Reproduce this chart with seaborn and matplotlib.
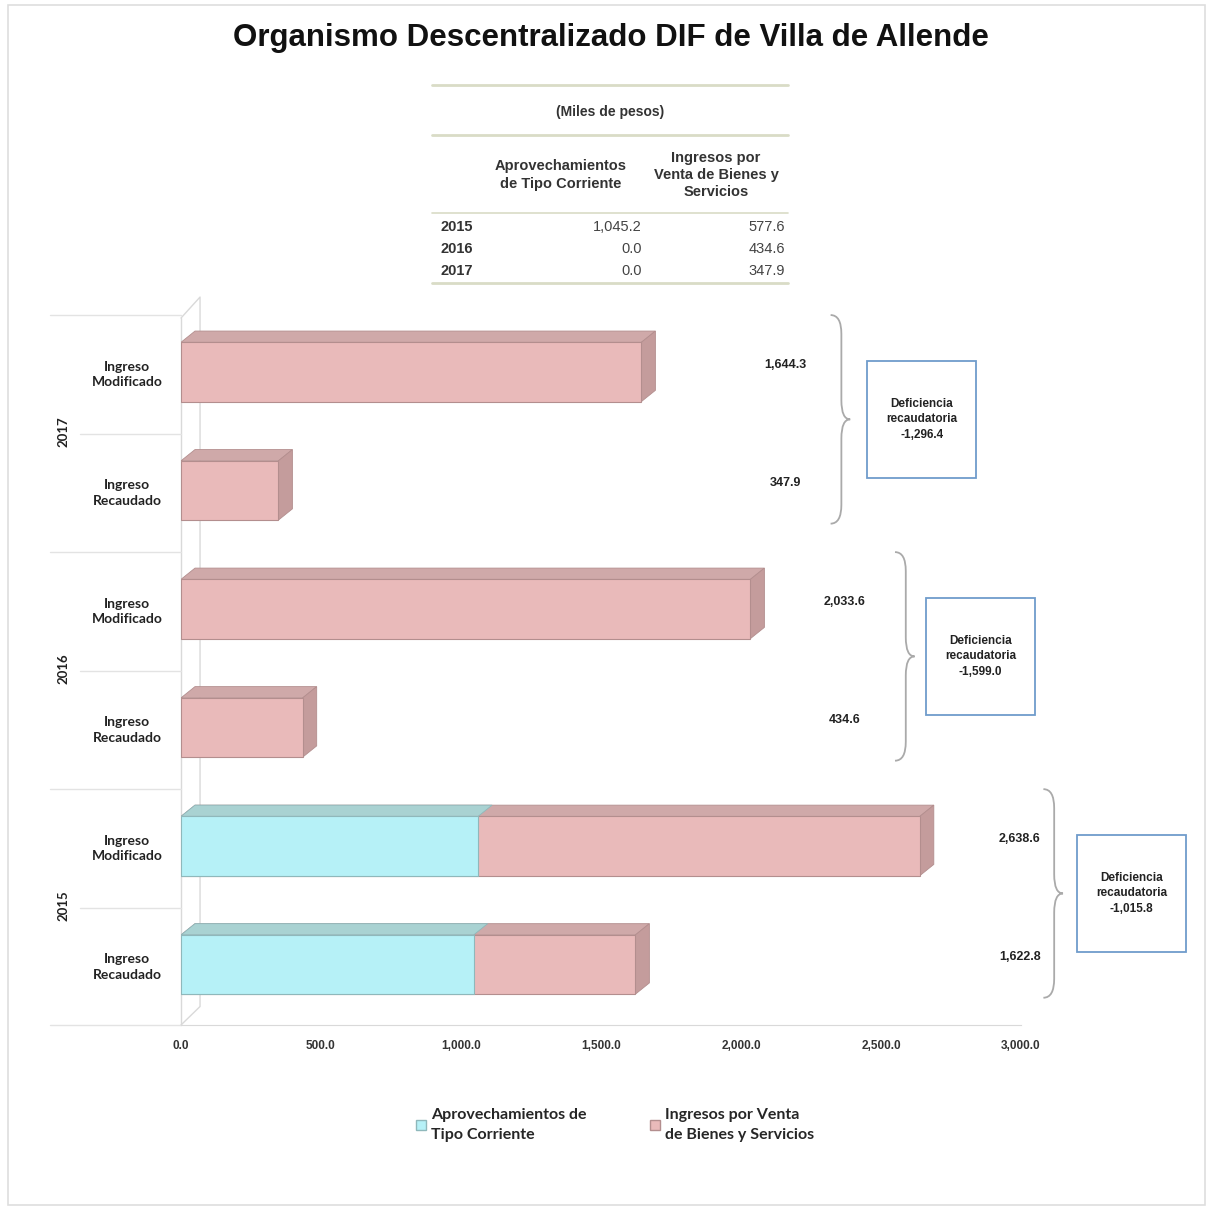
import seaborn as sns
import matplotlib.pyplot as plt
import pandas as pd
from matplotlib import font_manager, transforms
from matplotlib.patches import Polygon, Rectangle, Patch, PathPatch
from matplotlib.path import Path
from matplotlib.lines import Line2D

# data (miles de pesos)
years = ['2017', '2016', '2015']
aprov_mod = [0.0, 0.0, 1061.0]
venta_mod = [1644.3, 2033.6, 1577.6]
aprov_rec = [0.0, 0.0, 1045.2]
venta_rec = [347.9, 434.6, 577.6]
bar_kinds = ['Ingreso\nModificado', 'Ingreso\nRecaudado']
series_names = ['Aprovechamientos de\nTipo Corriente', 'Ingresos por Venta\nde Bienes y Servicios']

# table at the top
table_years = ['2015', '2016', '2017']
table_aprov = [1045.2, 0.0, 0.0]
table_venta = [577.6, 434.6, 347.9]

W, H = 1207, 1209


def fx(px):
    return px / W


def fy(py):
    return 1 - py / H


def has_font(name):
    try:
        font_manager.findfont(font_manager.FontProperties(family=name), fallback_to_default=False)
        return True
    except Exception:
        return False


narrow = 'Liberation Sans Narrow' if has_font('Liberation Sans Narrow') else 'Liberation Sans'
calib = 'Lato'

sns.set_style('white')
plt.rcParams['font.family'] = ['Liberation Sans', 'DejaVu Sans']

rows = []
for i, y in enumerate(years):
    rows.append({'bar': y + '|' + bar_kinds[0], 'aprov': aprov_mod[i], 'total': aprov_mod[i] + venta_mod[i]})
    rows.append({'bar': y + '|' + bar_kinds[1], 'aprov': aprov_rec[i], 'total': aprov_rec[i] + venta_rec[i]})
df = pd.DataFrame(rows)
order = list(df['bar'])

pink, pink_top, pink_side, pink_edge = '#e9baba', '#cfa9a9', '#c49c9c', '#b38e8e'
cyan, cyan_top, cyan_edge = '#b6f1f7', '#a9d2d2', '#8fb8bb'

fig = plt.figure(figsize=(W / 100, H / 100), dpi=100)
fig.patches.append(Rectangle((fx(8), fy(1205)), fx(1205) - fx(8), fy(5) - fy(1205),
                             transform=fig.transFigure, fill=False, edgecolor='#dedede', lw=1.2))

ax = fig.add_axes([fx(181), fy(1025), (1021 - 181) / W, (1025 - 300) / H])
sns.barplot(data=df, x='total', y='bar', order=order, orient='h', color=pink,
            saturation=1, width=0.5, ax=ax, edgecolor=pink_edge, linewidth=0.8)
n_pink = len(ax.patches)
sns.barplot(data=df, x='aprov', y='bar', order=order, orient='h', color=cyan,
            saturation=1, width=0.5, ax=ax, edgecolor=cyan_edge, linewidth=0.8)

# fake 3d depth
dx, dy = 50, 0.095
for k, p in enumerate(list(ax.patches)):
    x0, y0, w, h = p.get_x(), p.get_y(), p.get_width(), p.get_height()
    if w <= 0:
        continue
    is_pink = k < n_pink
    top = Polygon([(x0, y0), (x0 + w, y0), (x0 + w + dx, y0 - dy), (x0 + dx, y0 - dy)],
                  closed=True, facecolor=pink_top if is_pink else cyan_top,
                  edgecolor=pink_edge if is_pink else cyan_edge, lw=0.6,
                  zorder=1 if is_pink else 1.5)
    ax.add_patch(top)
    if is_pink:
        side = Polygon([(x0 + w, y0), (x0 + w + dx, y0 - dy), (x0 + w + dx, y0 + h - dy), (x0 + w, y0 + h)],
                       closed=True, facecolor=pink_side, edgecolor=pink_edge, lw=0.6, zorder=1)
        ax.add_patch(side)
    p.set_zorder(2 if is_pink else 2.5)

ax.set_xlim(0, 3000)
ax.set_ylim(5.51, -0.607)
ax.set_xticks(range(0, 3001, 500))
ax.set_xticklabels([f'{v:,.1f}' for v in range(0, 3001, 500)], fontsize=8.5,
                   fontweight='bold', color='#333333', family=narrow)
ax.tick_params(axis='x', length=0, pad=11)
ax.set_yticks([])
ax.set_xlabel('')
ax.set_ylabel('')
for s in ['top', 'right', 'left']:
    ax.spines[s].set_visible(False)
ax.spines['bottom'].set_color('#d9d9d9')

# back wall
wall = dict(color='#d9d9d9', lw=1, clip_on=False, zorder=0.5)
ax.plot([0, 68, 68, 0], [-0.455, -0.632, 5.354, 5.51], **wall)
ax.plot([0, 0], [-0.455, 5.51], **wall)

# left axis labels and separators
bt = transforms.blended_transform_factory(ax.transAxes, ax.transData)
for g in range(len(years)):
    yb = -0.48 + 2 * g
    ax.add_line(Line2D([-0.156, 0], [yb, yb], transform=bt, color='#e3e3e3', lw=1, clip_on=False))
    ax.add_line(Line2D([-0.12, 0], [yb + 1, yb + 1], transform=bt, color='#e3e3e3', lw=1, clip_on=False))
    ax.text(-0.14, 2 * g + 0.5, years[g], transform=bt, rotation=90, ha='center', va='center',
            fontsize=9.5, fontweight='bold', family=calib, color='#222222')
ax.add_line(Line2D([-0.156, 0], [5.51, 5.51], transform=bt, color='#e3e3e3', lw=1, clip_on=False))
for i, b in enumerate(order):
    ax.text(-0.064, i + 0.02, b.split('|')[1], transform=bt, ha='center', va='center',
            fontsize=10, fontweight='bold', family=calib, color='#222222', linespacing=1.35)

# total labels, braces and deficiency boxes
label_x = [2160, 2370, 2995]
brace_x = [2320, 2550, 3080]
box_x = [2450, 2660, 3200]
totals_mod = [a + v for a, v in zip(aprov_mod, venta_mod)]
totals_rec = [a + v for a, v in zip(aprov_rec, venta_rec)]


def brace(x0, yt, yb, ym, w=70, r=0.16):
    xm = x0 + w * 0.55
    verts = [(x0, yt), (xm, yt), (xm, yt + r),
             (xm, ym - r), (xm, ym), (x0 + w, ym),
             (xm, ym), (xm, ym + r),
             (xm, yb - r), (xm, yb), (x0, yb)]
    codes = [Path.MOVETO, Path.CURVE3, Path.CURVE3,
             Path.LINETO, Path.CURVE3, Path.CURVE3,
             Path.CURVE3, Path.CURVE3,
             Path.LINETO, Path.CURVE3, Path.CURVE3]
    ax.add_patch(PathPatch(Path(verts, codes), fill=False, edgecolor='#aaaaaa', lw=1.3, clip_on=False))


for g in range(len(years)):
    ym, yr = 2 * g, 2 * g + 1
    ax.text(label_x[g], ym - 0.06, f'{totals_mod[g]:,.1f}', ha='center', va='center',
            fontsize=9, fontweight='bold', family=narrow, color='#222222')
    ax.text(label_x[g], yr - 0.06, f'{totals_rec[g]:,.1f}', ha='center', va='center',
            fontsize=9, fontweight='bold', family=narrow, color='#222222')
    mid = 2 * g + 0.4
    brace(brace_x[g], 2 * g - 0.48, 2 * g + 1.28, mid)
    bw, bh = 390, 0.99
    ax.add_patch(Rectangle((box_x[g], mid - bh / 2), bw, bh, fill=False, edgecolor='#6f9ccb',
                           lw=1.3, clip_on=False))
    deficit = totals_rec[g] - totals_mod[g]
    ax.text(box_x[g] + bw / 2, mid, f'Deficiencia\nrecaudatoria\n{deficit:,.1f}', ha='center',
            va='center', fontsize=8.5, fontweight='bold', family=narrow, color='#222222',
            linespacing=1.35)

# title
fig.text(fx(611), fy(38), 'Organismo Descentralizado DIF de Villa de Allende', ha='center',
         va='center', fontsize=22.5, fontweight='bold', color='#111111')

# table
line_col = '#d9dcc6'
for yl, lw in [(85, 2), (135, 2), (213, 1.2), (283, 2)]:
    fig.add_artist(Line2D([fx(432), fx(788)], [fy(yl), fy(yl)], transform=fig.transFigure,
                          color=line_col, lw=lw))
fig.text(fx(610), fy(112), '(Miles de pesos)', ha='center', va='center', fontsize=10,
         fontweight='bold', family=narrow, color='#333333')
fig.text(fx(561), fy(175), 'Aprovechamientos\nde Tipo Corriente', ha='center', va='center',
         fontsize=10.5, fontweight='bold', family=narrow, color='#333333', linespacing=1.3)
fig.text(fx(716), fy(175), 'Ingresos por\nVenta de Bienes y\nServicios', ha='center', va='center',
         fontsize=10.5, fontweight='bold', family=narrow, color='#333333', linespacing=1.3)
for i, yr in enumerate(table_years):
    yy = fy(227 + 22 * i)
    fig.text(fx(440), yy, yr, ha='left', va='center', fontsize=10.5, fontweight='bold',
             family=narrow, color='#333333')
    fig.text(fx(642), yy, f'{table_aprov[i]:,.1f}', ha='right', va='center', fontsize=10.5,
             family=narrow, color='#444444')
    fig.text(fx(785), yy, f'{table_venta[i]:,.1f}', ha='right', va='center', fontsize=10.5,
             family=narrow, color='#444444')

# legend
handles = [Patch(facecolor=cyan, edgecolor=cyan_edge), Patch(facecolor=pink, edgecolor=pink_edge)]
leg = fig.legend(handles, series_names, loc='center', bbox_to_anchor=(fx(615), fy(1125)), ncol=2,
                 frameon=False, handlelength=0.6, handleheight=0.6, handletextpad=0.3,
                 columnspacing=4, prop={'family': calib, 'weight': 'bold', 'size': 11.5})
for t in leg.get_texts():
    t.set_linespacing(1.5)

fig.savefig('out.png', dpi=100)
